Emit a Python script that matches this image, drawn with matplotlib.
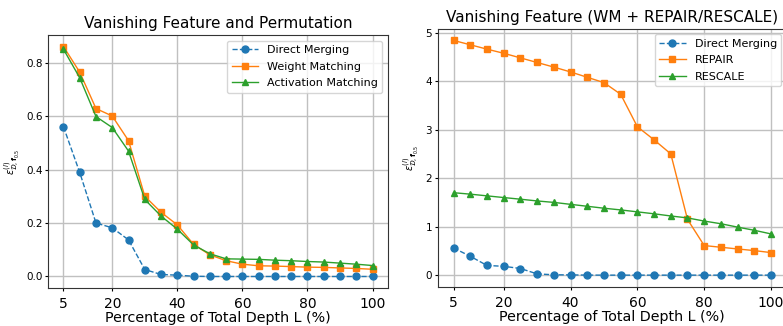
import matplotlib
matplotlib.use("Agg")
import matplotlib.pyplot as plt

depth = [5, 10, 15, 20, 25, 30, 35, 40, 45, 50, 55, 60, 65, 70, 75, 80, 85, 90, 95, 100]
xticks = [5, 20, 40, 60, 80, 100]

direct_merging = [0.56, 0.389, 0.20, 0.182, 0.137, 0.026, 0.0075, 0.005, 0.001, 0.0,
                  0.0, 0.0, 0.0, 0.0, 0.0, 0.0, 0.0, 0.0, 0.0, 0.0]
weight_matching = [0.86, 0.764, 0.628, 0.60, 0.508, 0.30, 0.24, 0.193, 0.12, 0.081,
                   0.059, 0.046, 0.04, 0.039, 0.037, 0.035, 0.034, 0.032, 0.03, 0.027]
activation_matching = [0.85, 0.743, 0.598, 0.557, 0.469, 0.288, 0.226, 0.177, 0.118, 0.085,
                       0.066, 0.065, 0.064, 0.061, 0.059, 0.056, 0.054, 0.05, 0.046, 0.041]

repair = [4.84, 4.75, 4.66, 4.575, 4.48, 4.385, 4.29, 4.19, 4.08, 3.97,
          3.73, 3.06, 2.79, 2.50, 1.15, 0.61, 0.575, 0.54, 0.506, 0.465]
rescale = [1.70, 1.67, 1.635, 1.60, 1.566, 1.53, 1.50, 1.46, 1.42, 1.38,
           1.345, 1.305, 1.265, 1.22, 1.18, 1.115, 1.06, 0.99, 0.925, 0.85]

ylabel = r"$\varepsilon^{(l)}_{\mathcal{D},\mathbf{f}_{0.5}}$"

fig = plt.figure(figsize=(7.83, 3.26), dpi=100)
ax1 = fig.add_axes([0.0613, 0.1166, 0.4342, 0.776])
ax2 = fig.add_axes([0.559, 0.1200, 0.446, 0.792])


def draw(ax, series, title):
    for vals, label, marker, ls, color in series:
        ax.plot(depth, vals, marker=marker, linestyle=ls, color=color,
                label=label, markersize=5, linewidth=1)
    ax.set_title(title, fontsize=11, pad=5)
    ax.set_xlabel("Percentage of Total Depth L (%)", fontsize=10.3, labelpad=0.3)
    ax.set_ylabel(ylabel, fontsize=7, labelpad=3)
    ax.set_xticks(xticks)
    ax.tick_params(axis="x", labelsize=10, length=2.5, pad=4)
    ax.tick_params(axis="y", labelsize=7.5, length=2.5, pad=1.5)
    ax.grid(True, color="#c0c0c0", linewidth=1)
    for s in ax.spines.values():
        s.set_color("#333333")
    ax.legend(loc="upper right", fontsize=8, labelspacing=0.6, handlelength=2.4)


draw(ax1, [
    (direct_merging, "Direct Merging", "o", "--", "#1f77b4"),
    (weight_matching, "Weight Matching", "s", "-", "#ff7f0e"),
    (activation_matching, "Activation Matching", "^", "-", "#2ca02c"),
], "Vanishing Feature and Permutation")

draw(ax2, [
    (direct_merging, "Direct Merging", "o", "--", "#1f77b4"),
    (repair, "REPAIR", "s", "-", "#ff7f0e"),
    (rescale, "RESCALE", "^", "-", "#2ca02c"),
], "Vanishing Feature (WM + REPAIR/RESCALE)")

fig.savefig("out.png", dpi=100)
